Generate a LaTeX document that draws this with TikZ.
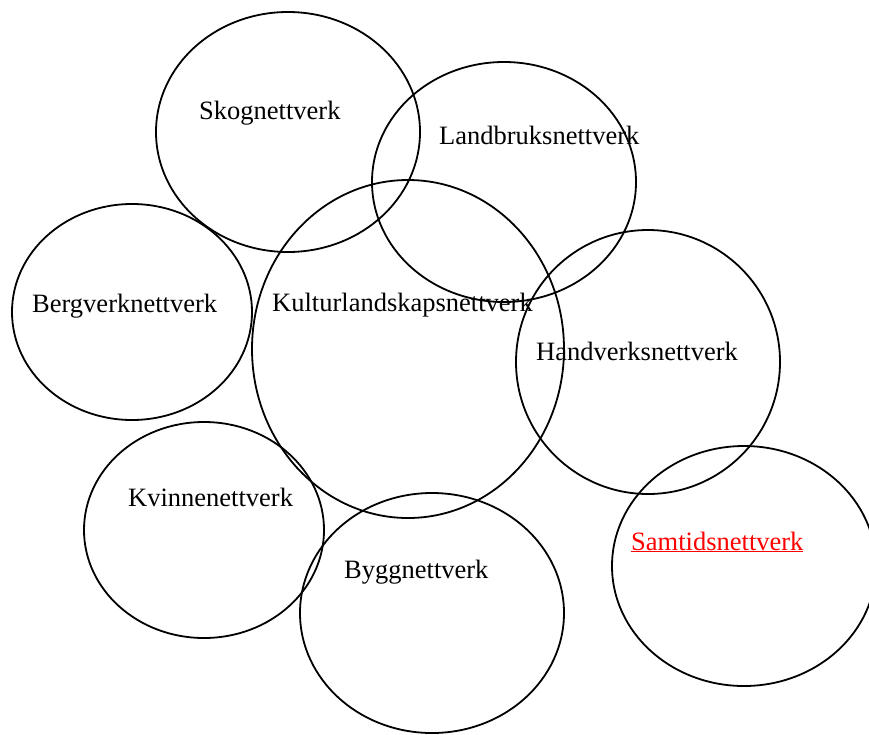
\documentclass[tikz,border=0pt]{standalone}
\usepackage{fontspec}
\setmainfont{Liberation Serif}
\usepackage{xcolor}
\usetikzlibrary{shapes.geometric}

\begin{document}
\begin{tikzpicture}[
            x=1pt, y=-1pt,
            net/.style={ellipse, draw, line width=1.8pt, inner sep=0pt},
            lbl/.style={anchor=base west, inner sep=0pt, font=\fontsize{26.5}{30}\selectfont}
        ]
        \useasboundingbox (0,0) rectangle (869,734);

        % Networks
        \node[net, minimum width=264, minimum height=240] (skog) at (288,132) {};
        \node[net, minimum width=264, minimum height=240] (landbruk) at (504,182) {};
        \node[net, minimum width=240, minimum height=216] (bergverk) at (132,312) {};
        \node[net, minimum width=312, minimum height=338] (kultur) at (408,349) {};
        \node[net, minimum width=264, minimum height=264] (handverk) at (648,362) {};
        \node[net, minimum width=240, minimum height=216] (kvinne) at (204,530) {};
        \node[net, minimum width=264, minimum height=240] (bygg) at (432,613) {};
        \node[net, minimum width=264, minimum height=240] (samtid) at (744,566) {};

        % Labels
        \node[lbl] (skogtxt) at (199,119) {Skognettverk};
        \node[lbl] (landbruktxt) at (439,144) {Landbruksnettverk};
        \node[lbl] (bergverktxt) at (32,312) {Bergverknettverk};
        \node[lbl] (kulturtxt) at (272,311) {Kulturlandskapsnettverk};
        \node[lbl] (handverktxt) at (536,360) {Handverksnettverk};
        \node[lbl] (kvinnetxt) at (128,506) {Kvinnenettverk};
        \node[lbl] (byggtxt) at (344,578) {Byggnettverk};
        \node[lbl, text=red] (samtidtxt) at (631,550) {\underline{Samtidsnettverk}};

    \end{tikzpicture}
\end{document}
